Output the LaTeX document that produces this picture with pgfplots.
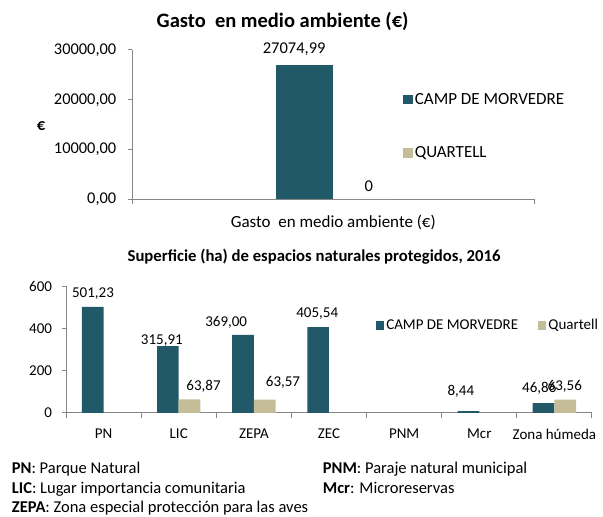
\documentclass[border=0pt]{standalone}
\usepackage{fontspec}
\setmainfont{Carlito}
\usepackage{pgfplots}
\usepackage{pgfplotstable}
\pgfplotsset{compat=1.18}
\definecolor{cmv}{RGB}{33,89,104}
\definecolor{qua}{RGB}{196,189,151}
\definecolor{axg}{RGB}{134,134,134}

\pgfplotstableread{
x y lab dx dy
0 27074.99 27074,99 -10.5 15.7
}\gastoCMV
\pgfplotstableread{
x y lab dx dy
0 0 0 6.8 12.8
}\gastoQ
\pgfplotstableread{
x y lab dx dy
0 501.23 501,23 0.3 13.1
1 315.91 315,91 -6 6
2 369.00 369,00 -16.8 13
3 405.54 405,54 -0.9 14
5 8.44 8,44 -7.6 20
6 46.86 46,86 -4.3 14.8
}\supCMV
\pgfplotstableread{
x y lab dx dy
1 63.87 63,87 14 13.5
2 63.57 63,57 18.3 16.8
6 63.56 63,56 -0.5 13.5
}\supQ

\pgfplotsset{
  common/.style={
    scale only axis, anchor=south west,
    axis lines=left, axis line style={-, draw=axg, line width=1pt},
    tick align=outside, tick style={draw=axg, line width=1pt},
    major tick length=4.5pt, minor tick length=5pt,
    major x tick style={draw=none},
    ybar=0pt,
    scaled y ticks=false,
    /pgf/number format/assume math mode=true,
    point meta=explicit symbolic,
    nodes near coords,
    visualization depends on={\thisrow{dx} \as \dx},
    visualization depends on={\thisrow{dy} \as \dy},
    every node near coord/.append style={anchor=center, xshift=\dx pt, yshift=\dy pt, text=black},
    legend style={draw=none, fill=none, inner sep=0pt},
    legend cell align=left,
    clip=false,
  }
}

\begin{document}
\begin{tikzpicture}
\useasboundingbox (0pt,0pt) rectangle (603pt,517pt);

% ---------- top chart ----------
\begin{axis}[common,
  at={(132.3pt,317.5pt)}, width=402pt, height=149.5pt,
  xmin=-1, xmax=1, ymin=0, ymax=30000,
  bar width=57.3pt,
  ytick={0,10000,20000,30000},
  yticklabel style={font=\fontsize{16.4}{19}\selectfont, xshift=-8pt, /pgf/number format/fixed, /pgf/number format/fixed zerofill, /pgf/number format/precision=2, /pgf/number format/use comma, /pgf/number format/1000 sep={}},
  xtick={0}, xticklabels={Gasto~ en medio ambiente (€)},
  xticklabel style={font=\fontsize{17}{20}\selectfont, yshift=-8pt},
  minor xtick={-1,1},
  ylabel={\textbf{€}},
  ylabel style={rotate=-90, at={(axis description cs:-0.227,0.49)}, anchor=center, font=\fontsize{16.5}{19}\selectfont},
  title={Gasto~ en medio ambiente (€)},
  title style={font=\bfseries\fontsize{20.5}{24}\selectfont, at={(axis description cs:0.374,1.150)}, anchor=center},
  nodes near coords style={font=\fontsize{16.5}{19}\selectfont},
  legend style={at={(axis description cs:0.674,0.49)}, anchor=west, font=\fontsize{17}{20}\selectfont, row sep=37pt},
  legend image code/.code={\fill[#1] (0pt,-4.7pt) rectangle (9.4pt,4.7pt);},
]
\addplot[fill=cmv, draw=none] table[x=x, y=y, meta=lab]{\gastoCMV};
\addlegendentry{CAMP DE MORVEDRE}
\addplot[fill=qua, draw=none] table[x=x, y=y, meta=lab]{\gastoQ};
\addlegendentry{QUARTELL}
\end{axis}

% ---------- bottom chart ----------
\begin{axis}[common,
  at={(66pt,104pt)}, width=526pt, height=127pt,
  xmin=-0.5, xmax=6.5, ymin=0, ymax=600,
  bar width=21.7pt,
  ytick={0,200,400,600},
  yticklabel style={font=\fontsize{15}{18}\selectfont, xshift=-6pt},
  xtick={0,...,6}, xticklabels={PN,LIC,ZEPA,ZEC,PNM,Mcr,Zona húmeda},
  xticklabel style={font=\fontsize{15}{18}\selectfont, yshift=-8pt},
  minor xtick={-0.5,0.5,...,6.5},
  title={Superficie (ha) de espacios naturales protegidos, 2016},
  title style={font=\bfseries\fontsize{16.7}{20}\selectfont, at={(axis description cs:0.4715,1.184)}, anchor=center},
  nodes near coords style={font=\fontsize{15}{18}\selectfont},
  legend columns=2,
  legend style={at={(axis description cs:0.589,0.69)}, anchor=west, font=\fontsize{15}{18}\selectfont,
    /tikz/every even column/.append style={column sep=18pt}},
  legend image code/.code={\fill[#1] (0pt,-4.15pt) rectangle (8.3pt,4.15pt);},
]
\addplot[fill=cmv, draw=none] table[x=x, y=y, meta=lab]{\supCMV};
\addlegendentry{CAMP DE MORVEDRE}
\addplot[fill=qua, draw=none] table[x=x, y=y, meta=lab]{\supQ};
\addlegendentry{Quartell}
\end{axis}

% ---------- footnotes ----------
\begin{scope}[every node/.style={anchor=base west, inner sep=0pt, font=\fontsize{16.5}{19}\selectfont}]
\node at (11.7pt,43pt) {\textbf{PN}: Parque Natural};
\node at (11.7pt,23.5pt) {\textbf{LIC}: Lugar importancia comunitaria};
\node at (11.7pt,4.2pt) {\textbf{ZEPA}: Zona especial protección para las aves};
\node at (322.7pt,43pt) {\textbf{PNM}: Paraje natural municipal};
\node at (322.7pt,23.5pt) {\textbf{Mcr}: Microreservas};
\end{scope}
\end{tikzpicture}
\end{document}
